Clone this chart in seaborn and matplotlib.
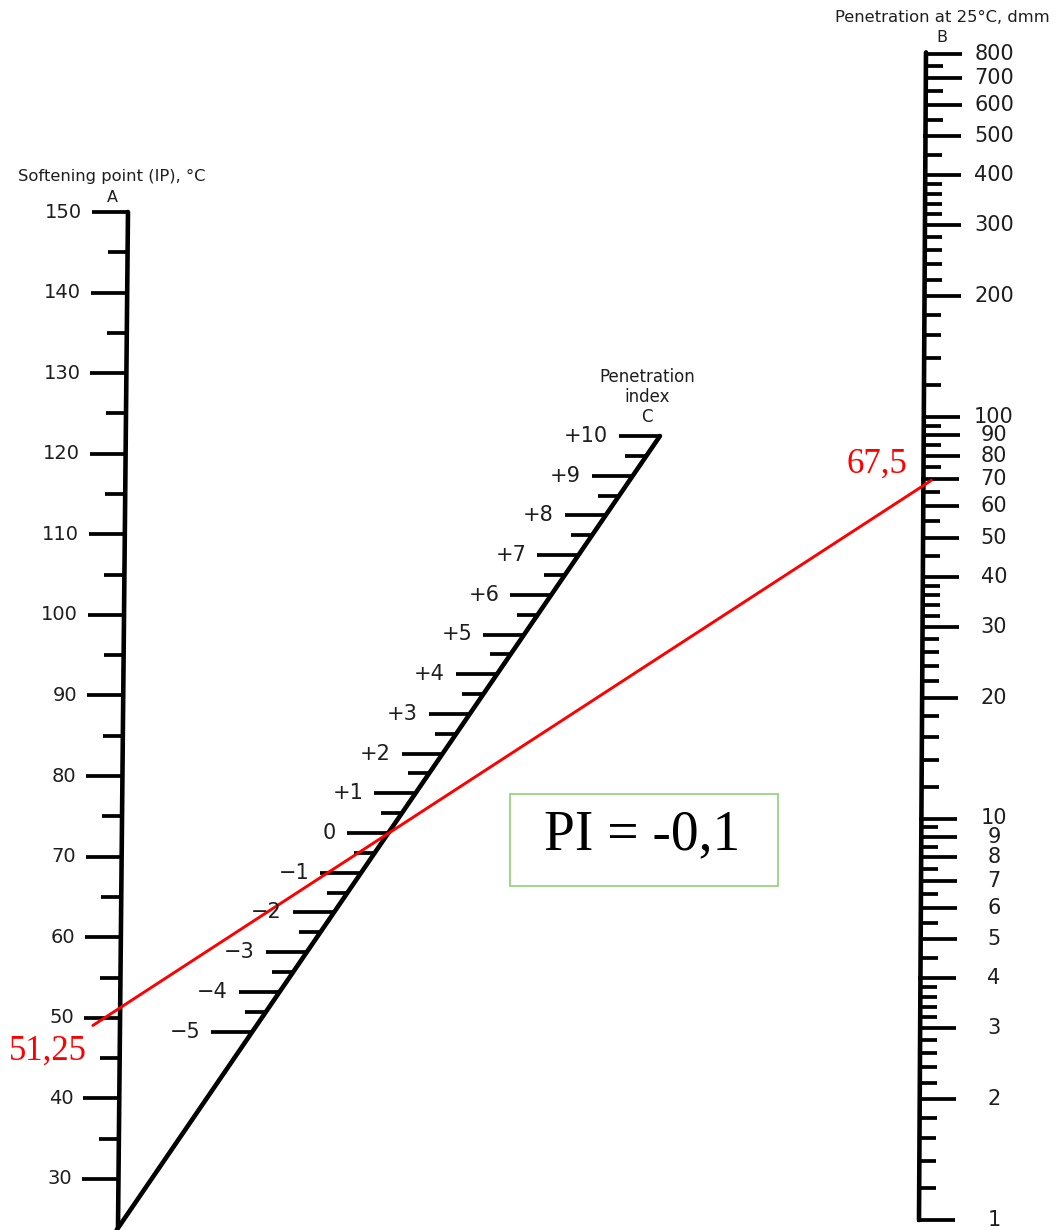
import numpy as np
import pandas as pd
import matplotlib
matplotlib.use("Agg")
import matplotlib.pyplot as plt
import seaborn as sns
from matplotlib.patches import Rectangle

# ---------------- data ----------------
A_major = [150, 140, 130, 120, 110, 100, 90, 80, 70, 60, 50, 40, 30]
A_minor = [145, 135, 125, 115, 105, 95, 85, 75, 65, 55, 45, 35]
A_range = [150, 24]

B_major = [800, 700, 600, 500, 400, 300, 200, 100, 90, 80, 70, 60, 50, 40,
           30, 20, 10, 9, 8, 7, 6, 5, 4, 3, 2, 1]
B_minor = [1.2, 1.4, 1.6, 1.8, 2.2, 2.4, 2.6, 2.8, 3.2, 3.4, 3.6, 3.8,
           4.5, 5.5, 6.5, 7.5, 8.5, 9.5,
           12, 14, 16, 18, 22, 24, 26, 28, 32, 34, 36, 38,
           45, 55, 65, 75, 85, 95,
           120, 140, 160, 180, 220, 240, 260, 280, 320, 340, 360, 380,
           450, 550, 650, 750]
B_range = [800, 1]

C_major = [-5, -4, -3, -2, -1, 0, 1, 2, 3, 4, 5, 6, 7, 8, 9, 10]
C_labels = ["\u22125", "\u22124", "\u22123", "\u22122", "\u22121", "0", "+1", "+2",
            "+3", "+4", "+5", "+6", "+7", "+8", "+9", "+10"]
C_minor = [-4.5, -3.5, -2.5, -1.5, -0.5, 0.5, 1.5, 2.5, 3.5, 4.5, 5.5, 6.5,
           7.5, 8.5, 9.5]
C_range = [-10, 10]

softening_point = 51.25
softening_label = "51,25"
penetration = 67.5
penetration_label = "67,5"
PI_text = "PI = -0,1"

# ---------------- scale geometry (figure pixel space) ----------------
def yA(v):
    return 212 + (150 - np.asarray(v, float)) * 8.058

def xA(y):
    return 128 - (np.asarray(y, float) - 210) * (10 / 1018)

def yB(v):
    return 1220 - np.log10(np.asarray(v, float)) * 401.5

def xB(y):
    return 926 - (np.asarray(y, float) - 50) * (7 / 1170)

def yC(p):
    return 833 - 39.7 * np.asarray(p, float)

def xC(y):
    return 118 + (1228 - np.asarray(y, float)) * 0.6843

# ---------------- figure ----------------
sns.set_theme(style="white")
plt.rcParams['font.family'] = ['DejaVu Sans']
fig = plt.figure(figsize=(10.58, 12.30), dpi=100)
ax = fig.add_axes([0, 0, 1, 1])
ax.set_xlim(0, 1058)
ax.set_ylim(1230, 0)
ax.axis("off")

txt = "#1e1e1e"
LW_AX = 3.3
LW_T = 2.7

# --- Axis A ---
ya = yA(A_range)
axA = pd.DataFrame({"x": xA(ya), "y": ya})
sns.lineplot(data=axA, x="x", y="y", ax=ax, color="black", lw=LW_AX,
             sort=False, estimator=None)
for v in A_major:
    y = float(yA(v)); x = float(xA(y))
    ax.plot([x - 36, x + 1.5], [y, y], color="black", lw=LW_T, solid_capstyle="butt")
    ax.text(x - 46, y, str(v), ha="right", va="center", fontsize=14, color=txt)
for v in A_minor:
    y = float(yA(v)); x = float(xA(y))
    ax.plot([x - 20, x], [y, y], color="black", lw=LW_T, solid_capstyle="butt")
ax.text(112, 176, "Softening point (IP), \u00b0C", ha="center", va="center",
        fontsize=11.8, color=txt)
ax.text(112, 197, "A", ha="center", va="center", fontsize=11.5, color=txt)

# --- Axis B ---
yb = yB(B_range)
yb_ext = np.array([yb[0] - 2, yb[1]])
axB = pd.DataFrame({"x": xB(yb_ext), "y": yb_ext})
sns.lineplot(data=axB, x="x", y="y", ax=ax, color="black", lw=LW_AX,
             sort=False, estimator=None)
for v in B_major:
    y = float(yB(v)); x = float(xB(y))
    ax.plot([x - 2, x + 36], [y, y], color="black", lw=LW_T, solid_capstyle="butt")
    ax.text(994, y, str(v), ha="center", va="center", fontsize=15, color=txt)
for v in B_minor:
    y = float(yB(v)); x = float(xB(y))
    ax.plot([x, x + 17], [y, y], color="black", lw=LW_T, solid_capstyle="butt")
ax.text(942, 18, "Penetration at 25\u00b0C, dmm", ha="center", va="center",
        fontsize=11.8, color=txt)
ax.text(942, 38, "B", ha="center", va="center", fontsize=11.5, color=txt)

# --- Axis C ---
yc = yC(C_range)
axC = pd.DataFrame({"x": xC(yc), "y": yc})
sns.lineplot(data=axC, x="x", y="y", ax=ax, color="black", lw=LW_AX,
             sort=False, estimator=None)
for v, lab in zip(C_major, C_labels):
    y = float(yC(v)); x = float(xC(y))
    ax.plot([x - 41, x], [y, y], color="black", lw=LW_T, solid_capstyle="butt")
    ax.text(x - 52, y, lab, ha="right", va="center", fontsize=15, color=txt)
for v in C_minor:
    y = float(yC(v)); x = float(xC(y))
    ax.plot([x - 21, x], [y, y], color="black", lw=LW_T, solid_capstyle="butt")
ax.text(647, 377, "Penetration", ha="center", va="center", fontsize=12, color=txt)
ax.text(647, 397, "index", ha="center", va="center", fontsize=12, color=txt)
ax.text(647, 417, "C", ha="center", va="center", fontsize=12, color=txt)

# --- Red reading line ---
y1 = float(yA(softening_point)); x1 = float(xA(y1))
y2 = float(yB(penetration)); x2 = float(xB(y2))
t = np.array([-0.034, 1.010])
red = pd.DataFrame({"x": x1 + t * (x2 - x1), "y": y1 + t * (y2 - y1)})
sns.lineplot(data=red, x="x", y="y", ax=ax, color="#ff0000", lw=2.1,
             sort=False, estimator=None)
ax.text(48, 1051, softening_label, ha="center", va="center", fontsize=25,
        color="#ff0000", family="Liberation Serif")
ax.text(877, 464, penetration_label, ha="center", va="center", fontsize=25,
        color="#ff0000", family="Liberation Serif")

# --- PI box ---
ax.add_patch(Rectangle((510, 794), 268, 92, fill=False, edgecolor="#92cf78", lw=1.2))
ax.text(642, 835, PI_text, ha="center", va="center", fontsize=40, color="black",
        family="Liberation Serif")

fig.savefig("out.png", dpi=100)
